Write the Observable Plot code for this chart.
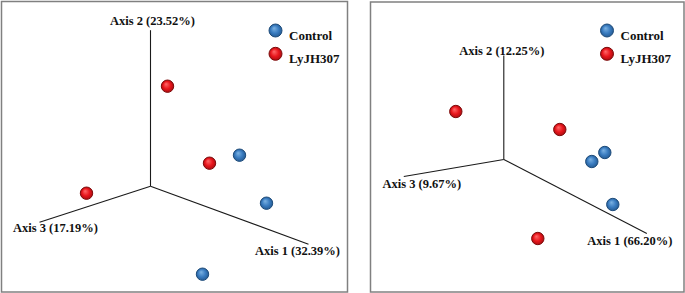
<!DOCTYPE html>
<html>
<head>
<meta charset="utf-8">
<script src="https://cdn.jsdelivr.net/npm/d3@7"></script>
<script src="https://cdn.jsdelivr.net/npm/@observablehq/plot@0.6"></script>
<style>
  html, body { margin: 0; padding: 0; background: #fff; }
  #chart { display: flex; width: 685px; height: 293px; }
  #chart svg { display: block; }
  #chart svg text { font-family: "Liberation Serif", "Times New Roman", serif; font-weight: 700; }
</style>
</head>
<body>
<div id="chart"></div>
<script>
// ---- Data (projected PCoA coordinates, origin = centre of the axis triad, y up) ----
const groups = ["Control", "LyJH307"];

// Left panel
const leftAxisNames = ["Axis 1 (32.39%)", "Axis 2 (23.52%)", "Axis 3 (17.19%)"];
const leftAxisX = [158, 0, -111];
const leftAxisY = [-58, 156, -36];
const leftSampleGroup = ["LyJH307", "LyJH307", "LyJH307", "Control", "Control", "Control"];
const leftSampleX = [17, 59, -64, 89, 116, 52];
const leftSampleY = [100, 23, -7, 31, -17, -88];

// Right panel
const rightAxisNames = ["Axis 1 (66.20%)", "Axis 2 (12.25%)", "Axis 3 (9.67%)"];
const rightAxisX = [143, 0, -100];
const rightAxisY = [-74, 104, -17];
const rightSampleGroup = ["LyJH307", "LyJH307", "LyJH307", "Control", "Control", "Control"];
const rightSampleX = [-48, 56, 34, 101, 88, 109];
const rightSampleY = [48, 30, -79, 7, -2, -45];

// ---- Layout / style (not data) ----
const FONT = "'Liberation Serif', 'Times New Roman', serif";
const gradStops = {
  Control: [["0%", "#7db3e3"], ["55%", "#3a7cc0"], ["100%", "#22568d"]],
  LyJH307: [["0%", "#ff6a6a"], ["55%", "#e8161c"], ["100%", "#a10c10"]]
};
const strokeOf = { Control: "#1d4b7a", LyJH307: "#7d0a0a" };

function makePanel(cfg) {
  const axes = cfg.axisNames.map((name, i) => ({ name, x: cfg.axisX[i], y: cfg.axisY[i] }));
  const samples = cfg.sampleX.map((x, i) => ({ x, y: cfg.sampleY[i], group: cfg.sampleGroup[i] }));
  const id = (g) => `${cfg.key}-${g}`;

  const marks = [
    Plot.frame({ stroke: "#808080", strokeWidth: 1.5 }),
    Plot.link(axes, { x1: () => 0, y1: () => 0, x2: "x", y2: "y", stroke: "#1a1a1a", strokeWidth: 1.1 }),
    ...axes.map((a, i) =>
      Plot.text([a], { x: "x", y: "y", text: "name", dx: cfg.labelOffsets[i][0], dy: cfg.labelOffsets[i][1],
        textAnchor: "middle", fill: "#111", fontSize: 12.5, fontWeight: "bold", fontFamily: FONT })
    ),
    ...groups.map((g) =>
      Plot.dot(samples.filter((d) => d.group === g), { x: "x", y: "y", r: 6.2, fill: `url(#${id(g)})`,
        stroke: strokeOf[g], strokeWidth: 1 })
    ),
    ...groups.map((g, i) =>
      Plot.dot([g], { frameAnchor: "top-right", dx: cfg.legendDx, dy: cfg.legendDy + i * 23.3, r: 6.5,
        fill: `url(#${id(g)})`, stroke: strokeOf[g], strokeWidth: 1 })
    ),
    ...groups.map((g, i) =>
      Plot.text([g], { frameAnchor: "top-right", dx: cfg.legendDx + 13.5, dy: cfg.legendDy + i * 23.3,
        text: (d) => d, textAnchor: "start", fill: "#111", fontSize: 13, fontWeight: "bold", fontFamily: FONT })
    )
  ];

  const { width, height, ml, mr, mt, mb, ox, oy } = cfg;
  const svg = Plot.plot({
    width, height,
    marginLeft: ml, marginRight: mr, marginTop: mt, marginBottom: mb,
    x: { domain: [ml - ox, width - mr - ox], axis: null },
    y: { domain: [oy - (height - mb), oy - mt], axis: null },
    style: { fontFamily: FONT, fontSize: "12.5px", fontWeight: "bold", background: "white", color: "#111", overflow: "visible" },
    marks
  });

  const defs = d3.select(svg).insert("defs", ":first-child");
  groups.forEach((g) => {
    const rg = defs.append("radialGradient").attr("id", id(g))
      .attr("cx", "50%").attr("cy", "50%").attr("r", "55%").attr("fx", "38%").attr("fy", "32%");
    gradStops[g].forEach(([o, c]) => rg.append("stop").attr("offset", o).attr("stop-color", c));
  });
  return svg;
}

const chart = document.getElementById("chart");
chart.append(makePanel({
  key: "L", axisNames: leftAxisNames, axisX: leftAxisX, axisY: leftAxisY,
  sampleGroup: leftSampleGroup, sampleX: leftSampleX, sampleY: leftSampleY,
  labelOffsets: [[-11, 7], [2, -9.5], [16, 6]],
  width: 355, height: 293, ml: 1, mr: 8, mt: 1, mb: 1.5, ox: 150, oy: 185.7,
  legendDx: -72, legendDy: 29
}));
chart.append(makePanel({
  key: "R", axisNames: rightAxisNames, axisX: rightAxisX, axisY: rightAxisY,
  sampleGroup: rightSampleGroup, sampleX: rightSampleX, sampleY: rightSampleY,
  labelOffsets: [[-17, 7], [-2, -5], [18, 7]],
  width: 330, height: 293, ml: 15, mr: 1.5, mt: 1.5, mb: 1.5, ox: 503.3 - 355, oy: 159,
  legendDx: -77, legendDy: 28.5
}));
</script>
</body>
</html>
